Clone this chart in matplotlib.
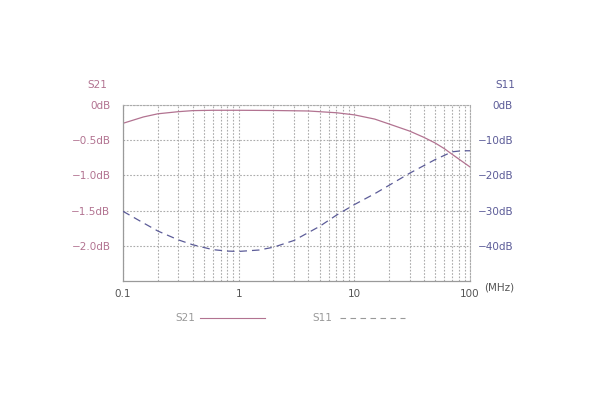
import matplotlib
matplotlib.use("Agg")
import matplotlib.pyplot as plt
from matplotlib.ticker import FixedLocator, NullFormatter

freq_s21 = [0.1, 0.15, 0.2, 0.3, 0.4, 0.6, 1, 2, 4, 7, 10, 15, 20, 30, 40, 50, 60, 70, 100]
s21 = [-0.26, -0.17, -0.125, -0.095, -0.08, -0.075, -0.075, -0.078, -0.085, -0.11, -0.14,
       -0.2, -0.27, -0.37, -0.46, -0.54, -0.62, -0.7, -0.88]
freq_s11 = [0.1, 0.15, 0.2, 0.3, 0.4, 0.6, 0.8, 1, 1.5, 2, 3, 5, 7, 10, 15, 20, 30, 50, 70, 85, 100]
s11 = [-30.2, -33.5, -35.8, -38.3, -39.7, -41.1, -41.5, -41.6, -41.2, -40.4, -38.5, -34.5,
       -31.3, -28.3, -25.2, -22.8, -19.4, -15.5, -13.3, -13.0, -13.0]

left_ticks = [0, -0.5, -1.0, -1.5, -2.0]
left_labels = ["0dB", "\u22120.5dB", "\u22121.0dB", "\u22121.5dB", "\u22122.0dB"]
right_ticks = [0, -10, -20, -30, -40]
right_labels = ["0dB", "\u221210dB", "\u221220dB", "\u221230dB", "\u221240dB"]
x_ticks = [0.1, 1, 10, 100]
x_labels = ["0.1", "1", "10", "100"]

c21 = "#b27391"
c11 = "#5c5c98"
gridc = "#ababab"
fs = 7.5

fig = plt.figure(figsize=(6, 4), dpi=100)
ax = fig.add_axes([123/600, 119/400, 347/600, 176/400])
ax.set_xscale("log")
ax.set_xlim(0.1, 100)
ax.set_ylim(-2.5, 0)

minor = [m * 10**e for e in (-1, 0, 1) for m in range(2, 10)]
ax.xaxis.set_major_locator(FixedLocator(x_ticks))
ax.xaxis.set_minor_locator(FixedLocator(minor))
ax.xaxis.set_minor_formatter(NullFormatter())
ax.set_xticklabels(x_labels)
ax.set_yticks(left_ticks)
ax.set_yticklabels(left_labels)
ax.tick_params(axis="both", which="both", length=0)
ax.tick_params(axis="y", pad=9, labelsize=fs, labelcolor=c21)
ax.tick_params(axis="x", pad=6, labelsize=fs, labelcolor="#555555")

ax.grid(True, which="both", axis="x", color=gridc, linestyle=(0, (1.5, 1.5)), linewidth=0.8)
ax.grid(True, which="major", axis="y", color=gridc, linestyle=(0, (1.5, 1.5)), linewidth=0.8)
ax.spines["top"].set_color(gridc)
ax.spines["top"].set_linestyle((0, (1.5, 1.5)))
ax.spines["right"].set_color(gridc)
ax.spines["right"].set_linestyle((0, (1.5, 1.5)))
for s in ("left", "bottom"):
    ax.spines[s].set_color("#9a9a9a")
    ax.spines[s].set_linewidth(0.9)

ax.plot(freq_s21, s21, color=c21, linewidth=0.9)

ax2 = ax.twinx()
ax2.set_ylim(-50, 0)
ax2.set_yticks(right_ticks)
ax2.set_yticklabels(right_labels, ha="right")
ax2.tick_params(axis="y", length=0, pad=31, labelsize=fs, labelcolor=c11)
for s in ax2.spines.values():
    s.set_visible(False)
ax2.plot(freq_s11, s11, color=c11, linewidth=0.9, linestyle=(0, (6, 4)))

fig.text(97/600, 1 - 85/400, "S21", color=c21, fontsize=fs, ha="center", va="center")
fig.text(505/600, 1 - 85/400, "S11", color=c11, fontsize=fs, ha="center", va="center")
fig.text(484/600, 1 - 288/400, "(MHz)", color="#555555", fontsize=fs, ha="left", va="center")

# legend
fig.text(185/600, 1 - 318/400, "S21", color="#999999", fontsize=fs, ha="center", va="center")
fig.add_artist(plt.Line2D([200/600, 265/600], [1 - 318/400] * 2, color=c21, linewidth=0.8))
fig.text(322/600, 1 - 318/400, "S11", color="#999999", fontsize=fs, ha="center", va="center")
fig.add_artist(plt.Line2D([340/600, 405/600], [1 - 318/400] * 2, color="#999999",
                          linewidth=0.8, linestyle=(0, (5, 4))))

fig.savefig("out.png", dpi=100)
